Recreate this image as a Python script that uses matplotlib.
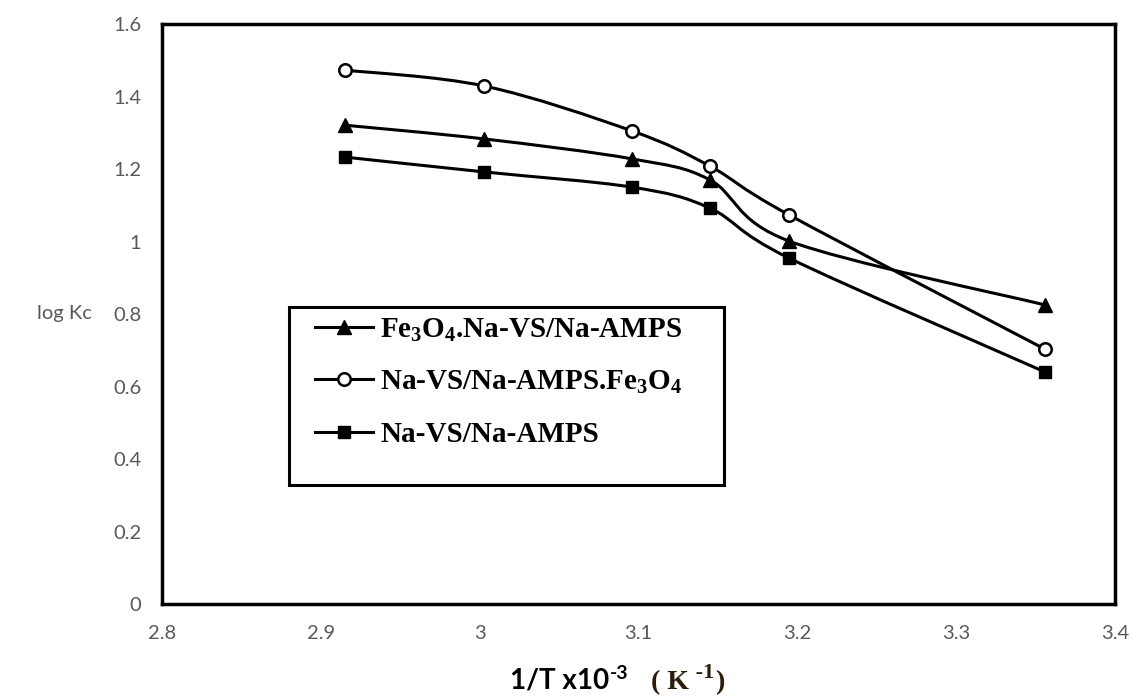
import matplotlib
matplotlib.use("Agg")
import matplotlib.pyplot as plt
from matplotlib.path import Path
from matplotlib.patches import PathPatch, Rectangle
from matplotlib.lines import Line2D
from matplotlib.transforms import offset_copy

# Données (1/T x10^-3, log Kc)
inv_T = [2.915, 3.003, 3.096, 3.145, 3.195, 3.356]
fe3o4_na = [1.321, 1.283, 1.228, 1.170, 1.001, 0.825]
na_fe3o4 = [1.473, 1.429, 1.305, 1.208, 1.073, 0.703]
na_vs = [1.233, 1.192, 1.150, 1.092, 0.954, 0.640]

labels = ['Fe$\\mathregular{_3}$O$\\mathregular{_4}$.Na-VS/Na-AMPS',
          'Na-VS/Na-AMPS.Fe$\\mathregular{_3}$O$\\mathregular{_4}$',
          'Na-VS/Na-AMPS']
markers = ['^', 'o', 's']
series = [fe3o4_na, na_fe3o4, na_vs]

plt.rcParams['mathtext.default'] = 'regular'
grey = '#595959'
tick_font = 'Lato'


def courbe_lisse(x, y):
    # courbe lissée type Excel (Bézier de Catmull-Rom)
    n = len(x)
    verts = [(x[0], y[0])]
    codes = [Path.MOVETO]
    for i in range(n - 1):
        xp, yp = (x[i - 1], y[i - 1]) if i > 0 else (x[i], y[i])
        xn, yn = (x[i + 2], y[i + 2]) if i + 2 < n else (x[i + 1], y[i + 1])
        c1 = (x[i] + (x[i + 1] - xp) / 6, y[i] + (y[i + 1] - yp) / 6)
        c2 = (x[i + 1] - (xn - x[i]) / 6, y[i + 1] - (yn - y[i]) / 6)
        verts += [c1, c2, (x[i + 1], y[i + 1])]
        codes += [Path.CURVE4] * 3
    return Path(verts, codes)


fig = plt.figure(figsize=(11.31, 6.97), dpi=100)
ax = fig.add_axes([0.1432, 0.1334, 0.8426, 0.8321])

handles = []
for y, m in zip(series, markers):
    ax.add_patch(PathPatch(courbe_lisse(inv_T, y), facecolor='none',
                           edgecolor='black', lw=2.2, zorder=2))
    if m == 'o':
        ax.plot(inv_T, y, linestyle='none', marker='o', markersize=9,
                markerfacecolor='white', markeredgecolor='black',
                markeredgewidth=1.8, zorder=3)
        h = Line2D([], [], color='black', lw=2.2, marker='o', markersize=9,
                   markerfacecolor='white', markeredgecolor='black', markeredgewidth=1.8)
    else:
        ms = 10 if m == '^' else 9
        ax.plot(inv_T, y, linestyle='none', marker=m, markersize=ms,
                color='black', zorder=3)
        h = Line2D([], [], color='black', lw=2.2, marker=m, markersize=ms)
    handles.append(h)

ax.set_xlim(2.8, 3.4)
ax.set_ylim(0, 1.6)
ax.set_xticks([2.8, 2.9, 3.0, 3.1, 3.2, 3.3, 3.4])
ax.set_xticklabels(['2.8', '2.9', '3', '3.1', '3.2', '3.3', '3.4'])
ax.set_yticks([0, 0.2, 0.4, 0.6, 0.8, 1.0, 1.2, 1.4, 1.6])
ax.set_yticklabels(['0', '0.2', '0.4', '0.6', '0.8', '1', '1.2', '1.4', '1.6'])
ax.tick_params(length=0, pad=15, labelsize=14.5, labelcolor=grey)
for t in ax.get_xticklabels() + ax.get_yticklabels():
    t.set_fontfamily(tick_font)
for s in ax.spines.values():
    s.set_linewidth(2.5)
    s.set_color('black')

# cadre de la légende
ax.add_patch(Rectangle((0.133, 0.205), 0.457, 0.307, transform=ax.transAxes,
                       facecolor='white', edgecolor='black', lw=2.2, zorder=4))
leg = ax.legend(handles, labels, loc='upper left', bbox_to_anchor=(0.148, 0.516),
                frameon=False, handlelength=2.0, handletextpad=0.25,
                labelspacing=0.86, borderaxespad=0,
                prop={'family': 'Liberation Serif', 'weight': 'bold', 'size': 21})
leg.set_zorder(5)

fig.text(0.057, 0.550, 'log Kc', fontsize=14.5, color=grey, family=tick_font,
         ha='center', va='center')

# titre de l'axe x, en morceaux
renderer = fig.canvas.get_renderer()
morceaux = [('1/T x10', 20, tick_font, 'black', 0),
            ('-3', 14, tick_font, 'black', 10),
            ('   ( K', 20, 'Liberation Serif', '#2b1d0a', 0),
            (' -1', 16, 'Liberation Serif', '#2b1d0a', 11),
            (')', 20, 'Liberation Serif', '#2b1d0a', 0)]
x_px = 510
for txt, size, fam, col, dy in morceaux:
    t = fig.text(x_px / 1131, 8 / 697, txt, fontsize=size, weight='bold',
                 family=fam, color=col, ha='left', va='baseline')
    t.set_transform(offset_copy(fig.transFigure, fig=fig, x=0, y=dy, units='dots'))
    x_px = t.get_window_extent(renderer).x1 + 1

fig.savefig('out.png', dpi=100)
